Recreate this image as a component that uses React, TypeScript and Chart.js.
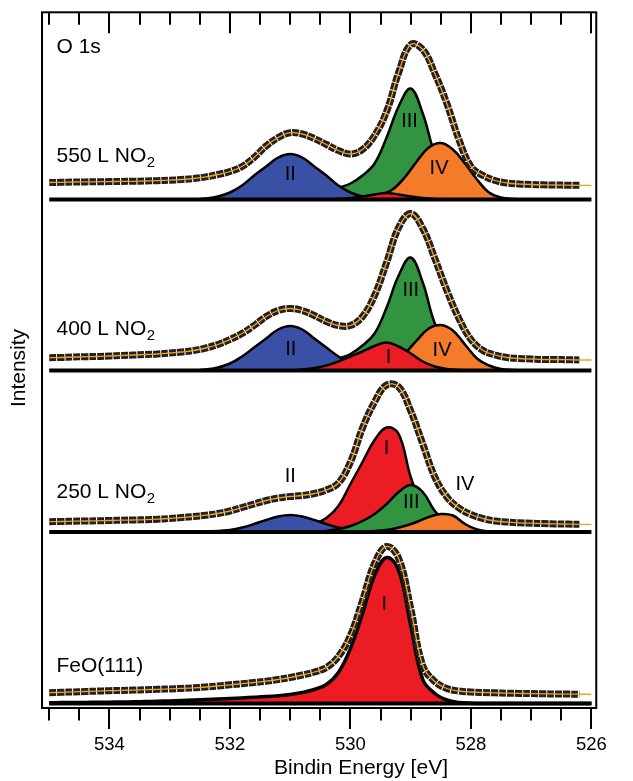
import React, { useEffect, useRef } from "react";
import { Chart, registerables } from "chart.js";

Chart.register(...registerables);

// ---------- data (binding energy in eV, intensity in arbitrary units) ----------
const energies = [535.0, 534.8, 534.6, 534.4, 534.2, 534.0, 533.8, 533.6, 533.4, 533.2, 533.0, 532.8, 532.6, 532.4, 532.2, 532.0, 531.8, 531.6, 531.4, 531.2, 531.0, 530.8, 530.6, 530.4, 530.2, 530.0, 529.8, 529.6, 529.4, 529.2, 529.0, 528.8, 528.6, 528.4, 528.2, 528.0, 527.8, 527.6, 527.4, 527.2, 527.0, 526.8, 526.6, 526.4, 526.2, 526.0];

const spec550 = [17, 17.2, 17.5, 17.6, 17.8, 17.9, 18.1, 18.2, 18.5, 18.8, 19.3, 20, 21, 22.6, 25, 28, 33, 42, 53.5, 62, 66.8, 65.5, 61, 55, 49, 45.5, 50, 64, 88, 127, 155, 150, 126, 96, 60, 33, 24, 19, 16.5, 15.5, 15, 14.7, 14.5, 14.3, 14.2, 14.2];
const spec400 = [12.8, 13, 13.5, 13.8, 14, 14.5, 15, 15.5, 16, 16.5, 17.5, 18.5, 20, 22.5, 26, 31, 37, 45, 54, 60, 62, 60, 55, 49, 45, 45, 54, 75, 108, 143, 157, 142, 112, 80, 52, 31, 20, 15.5, 13, 12, 11.5, 11, 11, 10.8, 10.5, 10.5];
const spec250 = [10.3, 10.5, 10.8, 11, 11.2, 11.5, 11.8, 12, 12.3, 12.8, 13.5, 14.5, 15.5, 16.8, 18.5, 21, 24.5, 28, 31.5, 34, 35.5, 36.5, 38.5, 42, 49, 70, 104, 130, 147, 145, 121, 88, 55, 35, 24, 17.5, 13.5, 11, 10, 9.2, 8.8, 8.4, 8.1, 7.9, 7.7, 7.7];
const specFeO = [10.8, 11.2, 11.6, 12, 12.4, 12.8, 13.1, 13.4, 13.8, 14.2, 14.6, 15.1, 15.7, 16.5, 17.5, 18.7, 19.8, 21, 22.3, 24, 26, 28.5, 31.5, 36, 47, 68, 103, 140, 157, 145, 95, 38, 22, 15, 12.5, 11.5, 11, 10.7, 10.3, 10.1, 9.9, 9.7, 9.5, 9.4, 9.3, 9.2];

// component grid (I, II, III)
const compEnergies = [532.6, 532.4, 532.2, 532.0, 531.8, 531.6, 531.4, 531.2, 531.0, 530.8, 530.6, 530.4, 530.2, 530.0, 529.8, 529.6, 529.4, 529.2, 529.0, 528.8, 528.6, 528.4, 528.2, 528.0, 527.8, 527.6, 527.4, 527.2];
// component grid (IV)
const compEnergiesIV = [529.9, 529.7, 529.5, 529.3, 529.1, 528.9, 528.7, 528.5, 528.3, 528.1, 527.9, 527.7, 527.5, 527.3, 527.1];

const c550_II = [0, 1, 3, 7, 14, 24, 33, 42, 45.5, 42, 33, 24, 14, 7, 3, 1, 0, 0, 0, 0, 0, 0, 0, 0, 0, 0, 0, 0];
const c550_III = [0, 0, 0, 0, 0, 0, 0, 0, 0, 0, 3, 7, 11.5, 16, 24, 36, 62, 93, 111, 86, 46, 25, 13, 7, 3, 1, 0, 0];
const c550_I = [0, 0, 0, 0, 0, 0, 0, 0, 0, 0, 0, 0, 0.5, 1.5, 3, 5, 6.5, 5, 3, 1.5, 0.5, 0, 0, 0, 0, 0, 0, 0];
const c550_IV = [1, 2, 5, 10, 22, 38, 52, 56.5, 50, 36, 20, 7, 2, 0.5, 0];

const c400_II = [0, 1, 3, 7, 14, 23, 32, 41, 44.5, 41, 32, 23, 14, 7, 3, 1, 0, 0, 0, 0, 0, 0, 0, 0, 0, 0, 0, 0];
const c400_III = [0, 0, 0, 0, 0, 0, 0, 0, 0, 0, 3, 7, 12, 16.5, 25, 37, 63, 95, 113, 88, 47, 26, 13, 7, 3, 1, 0, 0];
const c400_I = [0, 0, 0, 0, 0, 0, 0, 0, 0, 1, 2.5, 5, 9, 14, 19, 24.5, 28, 24, 17, 9, 4, 1.5, 0.5, 0, 0, 0, 0, 0];
const c400_IV = [0.5, 1.5, 4, 9, 17, 30, 42, 45.5, 40, 26, 12, 5, 1.5, 0.5, 0];

const c250_II = [0, 0, 0.7, 2, 4.5, 8, 12, 15.5, 17, 15.5, 12, 8, 4.5, 2, 0.7, 0, 0, 0, 0, 0, 0, 0, 0, 0, 0, 0, 0, 0];
const c250_I = [0, 0.5, 1, 1.5, 2, 2.5, 3, 3.5, 4.5, 6, 8.5, 14, 26, 48, 70, 92, 104.5, 98, 55, 25, 10, 4, 1.5, 0.5, 0, 0, 0, 0];
const c250_III = [0, 0, 0, 0, 0, 0, 0, 0, 0, 0, 0, 1, 3, 6, 11, 18, 28, 40, 47, 40, 21, 10, 5, 2, 0.5, 0, 0, 0];
const c250_IV = [0, 0.5, 1.5, 3, 6, 10, 15, 18, 16.5, 8, 2.5, 0.5, 0, 0, 0];

const cFeO_I = [0.8, 0.9, 1, 1.1, 1.2, 1.3, 1.5, 1.7, 1.9, 2.2, 2.6, 3, 3.5, 4, 4.5, 5, 5.6, 6.2, 6.9, 7.8, 9, 11, 14, 19, 31, 55, 90, 128, 146, 133, 78, 24, 10, 3.5, 1, 0.3, 0, 0, 0, 0, 0, 0, 0, 0, 0, 0];

// vertical offsets of the stacked spectra
const panelOffsets = [508.5, 337.5, 176, 4.5];
const panelNames = ["550 L NO", "400 L NO", "250 L NO", "FeO(111)"];
const panelSubs = ["2", "2", "2", ""];

const majorTicks = [534, 532, 530, 528, 526];
const minorTicks = [535, 534.5, 533.5, 533, 532.5, 531.5, 531, 530.5, 529.5, 529, 528.5, 527.5, 527, 526.5];

// ---------- styles ----------
const FONT = '"Liberation Sans", Arial, Helvetica, sans-serif';
const GREEN = "#329440";
const BLUE = "#3a50a4";
const ORANGE = "#f37b29";
const RED = "#ec1c24";
const DATA = "#231f20";
const FIT = "#f0a21c";

type Comp = { e: number[]; v: number[]; color: string; name: string; lx: number; ly: number; width?: number };

const panels: { offset: number; spec: number[]; comps: Comp[] }[] = [
  {
    offset: panelOffsets[0],
    spec: spec550,
    comps: [
      { e: compEnergies, v: c550_III, color: GREEN, name: "III", lx: 529.02, ly: 78.5 },
      { e: compEnergies, v: c550_II, color: BLUE, name: "II", lx: 531.0, ly: 25.5 },
      { e: compEnergiesIV, v: c550_IV, color: ORANGE, name: "IV", lx: 528.53, ly: 31.5 },
      { e: compEnergies, v: c550_I, color: RED, name: "", lx: 0, ly: 0 },
    ],
  },
  {
    offset: panelOffsets[1],
    spec: spec400,
    comps: [
      { e: compEnergies, v: c400_III, color: GREEN, name: "III", lx: 529.0, ly: 80.5 },
      { e: compEnergies, v: c400_II, color: BLUE, name: "II", lx: 530.99, ly: 21.5 },
      { e: compEnergiesIV, v: c400_IV, color: ORANGE, name: "IV", lx: 528.48, ly: 20.5 },
      { e: compEnergies, v: c400_I, color: RED, name: "I", lx: 529.37, ly: 13.5 },
    ],
  },
  {
    offset: panelOffsets[2],
    spec: spec250,
    comps: [
      { e: compEnergies, v: c250_I, color: RED, name: "I", lx: 529.4, ly: 84 },
      { e: compEnergies, v: c250_II, color: BLUE, name: "II", lx: 531.0, ly: 56 },
      { e: compEnergies, v: c250_III, color: GREEN, name: "III", lx: 528.99, ly: 30 },
      { e: compEnergiesIV, v: c250_IV, color: ORANGE, name: "IV", lx: 528.1, ly: 48 },
    ],
  },
  {
    offset: panelOffsets[3],
    spec: specFeO,
    comps: [{ e: energies, v: cFeO_I, color: RED, name: "I", lx: 529.44, ly: 99.5, width: 3.5 }],
  },
];

const overlayPlugin = {
  id: "overlay",
  afterDraw(chart: any) {
    const { ctx, chartArea, scales } = chart;
    const x = scales.x;
    const y = scales.y;
    ctx.save();
    // frame
    ctx.strokeStyle = "#000";
    ctx.lineWidth = 2;
    ctx.strokeRect(chartArea.left, chartArea.top, chartArea.right - chartArea.left, chartArea.bottom - chartArea.top);
    // ticks: bottom outside, top inside
    ctx.lineWidth = 2;
    const drawTick = (v: number, len: number) => {
      const px = Math.round(x.getPixelForValue(v));
      ctx.beginPath();
      ctx.moveTo(px, chartArea.bottom);
      ctx.lineTo(px, chartArea.bottom + len);
      ctx.moveTo(px, chartArea.top);
      ctx.lineTo(px, chartArea.top + len);
      ctx.stroke();
    };
    majorTicks.forEach((v) => drawTick(v, 21));
    minorTicks.forEach((v) => drawTick(v, 12.5));

    // axis titles
    ctx.fillStyle = "#000";
    ctx.textBaseline = "middle";
    ctx.textAlign = "center";
    ctx.font = `21px ${FONT}`;
    ctx.fillText("Bindin Energy [eV]", 361, 768);
    ctx.save();
    ctx.translate(19, 368);
    ctx.rotate(-Math.PI / 2);
    ctx.fillText("Intensity", 0, 0);
    ctx.restore();

    // panel labels
    const labelE = 534.88;
    const panelLabelY = [43.5, 41.5, 40, 37.5];
    ctx.textAlign = "left";
    panels.forEach((p, i) => {
      const px = x.getPixelForValue(labelE);
      const py = y.getPixelForValue(p.offset + panelLabelY[i]);
      ctx.font = `21px ${FONT}`;
      ctx.fillText(panelNames[i], px, py);
      if (panelSubs[i]) {
        const w = ctx.measureText(panelNames[i]).width;
        ctx.font = `15px ${FONT}`;
        ctx.fillText(panelSubs[i], px + w + 0.5, py + 7);
      }
    });
    ctx.font = `21px ${FONT}`;
    ctx.fillText("O 1s", x.getPixelForValue(labelE), y.getPixelForValue(panels[0].offset + 152.5));

    // component labels
    ctx.textAlign = "center";
    ctx.font = `20px ${FONT}`;
    panels.forEach((p) => {
      p.comps.forEach((c) => {
        if (!c.name) return;
        ctx.fillText(c.name, x.getPixelForValue(c.lx), y.getPixelForValue(p.offset + c.ly));
      });
    });
    ctx.restore();
  },
};

function buildDatasets() {
  const list: any[] = [];
  panels.forEach((p) => {
    p.comps.forEach((c) => {
      list.push({
        data: c.e.map((e, i) => ({ x: e, y: p.offset + c.v[i] })),
        borderColor: "#000",
        borderWidth: c.width ?? 2.5,
        backgroundColor: c.color,
        fill: { value: p.offset },
        pointRadius: 0,
        tension: 0.4,
        borderJoinStyle: "round",
      });
    });
    // background / zero line of the fit
    list.push({
      data: [
        { x: 535, y: p.offset },
        { x: 526, y: p.offset },
      ],
      borderColor: "#000",
      borderWidth: 4,
      pointRadius: 0,
      fill: false,
    });
    // measured data (squares)
    list.push({
      data: energies.slice(0, energies.length - 1).map((e, i) => ({ x: e, y: p.offset + p.spec[i] })),
      borderColor: DATA,
      borderWidth: 7,
      borderDash: [7, 1],
      borderCapStyle: "butt",
      pointRadius: 0,
      fill: false,
      tension: 0.4,
    });
    // fit envelope
    list.push({
      data: energies.map((e, i) => ({ x: e, y: p.offset + p.spec[i] })),
      borderColor: FIT,
      borderWidth: 1.3,
      pointRadius: 0,
      fill: false,
      tension: 0.4,
    });
  });
  // list is bottom -> top; Chart.js draws highest order first
  return list.map((d, i) => ({ ...d, order: list.length - i }));
}

export default function App() {
  const canvasRef = useRef<HTMLCanvasElement | null>(null);

  useEffect(() => {
    if (!canvasRef.current) return;
    const chart = new Chart(canvasRef.current, {
      type: "line",
      data: { datasets: buildDatasets() },
      options: {
        responsive: false,
        animation: false,
        devicePixelRatio: 1,
        layout: { padding: { left: 0, right: 13, top: 12.3, bottom: 0 } },
        plugins: { legend: { display: false }, tooltip: { enabled: false } },
        events: [],
        scales: {
          x: {
            type: "linear",
            reverse: true,
            min: 525.92,
            max: 535.12,
            grid: { display: false, drawTicks: false },
            border: { display: false },
            ticks: {
              stepSize: 2,
              autoSkip: false,
              includeBounds: false,
              maxRotation: 0,
              padding: 26,
              color: "#000",
              font: { size: 18.5, family: FONT },
              callback: (v: any) => String(v),
            },
            afterFit: (s: any) => {
              s.height = 73;
            },
          },
          y: {
            type: "linear",
            min: 0,
            max: 695.7,
            grid: { display: false, drawTicks: false },
            border: { display: false },
            ticks: { display: false },
            afterFit: (s: any) => {
              s.width = 42;
            },
          },
        },
      } as any,
      plugins: [overlayPlugin],
    });
    return () => chart.destroy();
  }, []);

  return (
    <div style={{ position: "absolute", left: 0, top: 0, width: 633, height: 781, background: "#fff" }}>
      <canvas ref={canvasRef} width={633} height={781} />
    </div>
  );
}
